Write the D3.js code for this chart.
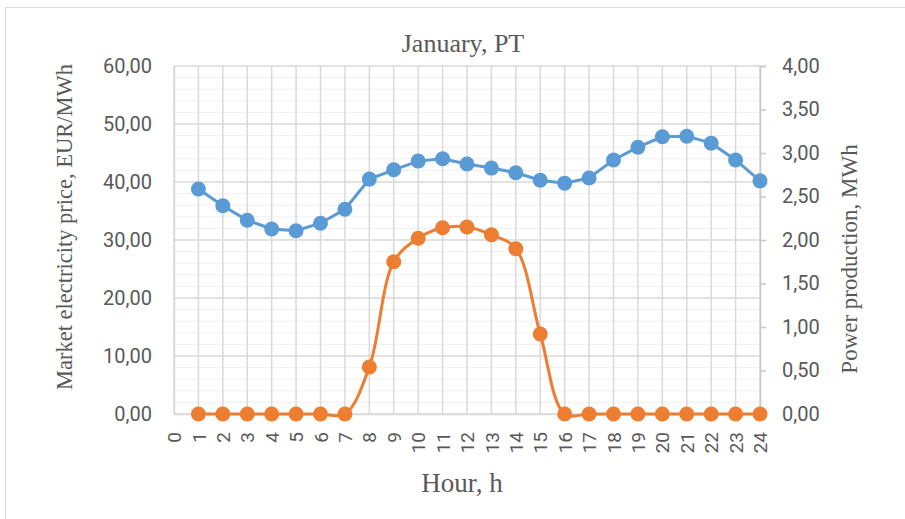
<!DOCTYPE html>
<html><head><meta charset="utf-8">
<script src="https://cdn.jsdelivr.net/npm/d3@7"></script>
<style>body{margin:0;background:#fff;} svg{display:block;}</style>
</head><body>
<svg id="chart" width="905" height="519"></svg>
<script>
const hours = [1,2,3,4,5,6,7,8,9,10,11,12,13,14,15,16,17,18,19,20,21,22,23,24];
const price = [38.8,35.9,33.4,31.9,31.6,32.9,35.3,40.5,42.1,43.6,44.0,43.1,42.4,41.6,40.3,39.8,40.7,43.8,46.0,47.8,47.9,46.7,43.8,40.2];
const power = [0,0,0,0,0,0,0,0.54,1.75,2.02,2.14,2.15,2.06,1.90,0.92,0,0,0,0,0,0,0,0,0];
const xTicks = d3.range(0,25);
const leftTicks = [0,10,20,30,40,50,60];
const rightTicks = [0,0.5,1,1.5,2,2.5,3,3.5,4];
const title = "January, PT";
const xTitle = "Hour, h";
const yLeftTitle = "Market electricity price, EUR/MWh";
const yRightTitle = "Power production, MWh";

const svg = d3.select("#chart");
const L = 174, R = 760, T = 66, B = 414;
const x = d3.scaleLinear().domain([0,24]).range([L,R]);
const yL = d3.scaleLinear().domain([0,60]).range([B,T]);
const yR = d3.scaleLinear().domain([0,4]).range([B,T]);
const fmt = v => d3.format(".2f")(v).replace(".", ",");
const txt = "#595959";
const sans = "Roboto, 'Open Sans', sans-serif";
const serif = "'Liberation Serif', 'Times New Roman', serif";

// chart border
svg.append("rect").attr("x",5.5).attr("y",7.5).attr("width",905).attr("height",519)
  .attr("fill","#fff").attr("stroke","#d9d9d9");

// minor horizontal gridlines
svg.append("g").selectAll("line").data(d3.range(0,61,2).filter(v=>v%10!==0)).join("line")
  .attr("x1",L).attr("x2",R).attr("y1",d=>yL(d)).attr("y2",d=>yL(d))
  .attr("stroke","#f0f0f0").attr("stroke-width",1);
// major horizontal gridlines
svg.append("g").selectAll("line").data(leftTicks).join("line")
  .attr("x1",L).attr("x2",R).attr("y1",d=>yL(d)).attr("y2",d=>yL(d))
  .attr("stroke","#d9d9d9").attr("stroke-width",1.5);
// vertical gridlines
svg.append("g").selectAll("line").data(xTicks).join("line")
  .attr("x1",d=>x(d)).attr("x2",d=>x(d)).attr("y1",T).attr("y2",B)
  .attr("stroke","#d9d9d9").attr("stroke-width",1.5);

// left axis
const gL = svg.append("g").attr("transform",`translate(${L},0)`)
  .call(d3.axisLeft(yL).tickValues(leftTicks).tickFormat(fmt).tickSize(0).tickPadding(22));
gL.select(".domain").attr("stroke","#d9d9d9").attr("stroke-width",1.5);
gL.selectAll("text").attr("fill",txt).style("font-family",sans).style("font-size","20px");

// right axis
const gR = svg.append("g").attr("transform",`translate(${R},0)`)
  .call(d3.axisRight(yR).tickValues(rightTicks).tickFormat(fmt).tickSize(6).tickPadding(16));
gR.select(".domain").attr("stroke","#c8c8c8").attr("stroke-width",1.5);
gR.selectAll("line").attr("stroke","#c8c8c8").attr("stroke-width",1.5);
gR.selectAll("text").attr("fill",txt).style("font-family",sans).style("font-size","20px");

// bottom axis
const gB = svg.append("g").attr("transform",`translate(0,${B})`)
  .call(d3.axisBottom(x).tickValues(xTicks).tickFormat(d3.format("d")).tickSize(0));
gB.select(".domain").attr("stroke","#d9d9d9").attr("stroke-width",1.5);
gB.selectAll("text").attr("fill",txt).style("font-family",sans).style("font-size","19px")
  .attr("transform","rotate(-90)").attr("text-anchor","end").attr("dy","0.35em").attr("x",-18).attr("y",0);

// lines
const lineP = d3.line().x((d,i)=>x(hours[i])).y(d=>yL(d));
svg.append("path").datum(price).attr("d",lineP).attr("fill","none").attr("stroke","#5B9BD5").attr("stroke-width",3);
const lineW = d3.line().x((d,i)=>x(hours[i])).y(d=>yR(d)).curve(d3.curveCatmullRom.alpha(0.5));
svg.append("path").datum(power).attr("d",lineW).attr("fill","none").attr("stroke","#ED7D31").attr("stroke-width",3);

svg.append("g").selectAll("circle").data(price).join("circle")
  .attr("cx",(d,i)=>x(hours[i])).attr("cy",d=>yL(d)).attr("r",7.5).attr("fill","#5B9BD5");
svg.append("g").selectAll("circle").data(power).join("circle")
  .attr("cx",(d,i)=>x(hours[i])).attr("cy",d=>yR(d)).attr("r",7.5).attr("fill","#ED7D31");

// titles
svg.append("text").attr("x",463).attr("y",52).attr("text-anchor","middle").attr("fill",txt)
  .style("font-family",serif).style("font-size","26px").text(title);
svg.append("text").attr("x",462).attr("y",492).attr("text-anchor","middle").attr("fill",txt)
  .style("font-family",serif).style("font-size","27px").text(xTitle);
svg.append("text").attr("transform",`translate(72,227) rotate(-90)`).attr("text-anchor","middle").attr("fill",txt)
  .style("font-family",serif).style("font-size","22.5px").text(yLeftTitle);
svg.append("text").attr("transform",`translate(857,259) rotate(-90)`).attr("text-anchor","middle").attr("fill",txt)
  .style("font-family",serif).style("font-size","23px").text(yRightTitle);
</script>
</body></html>
